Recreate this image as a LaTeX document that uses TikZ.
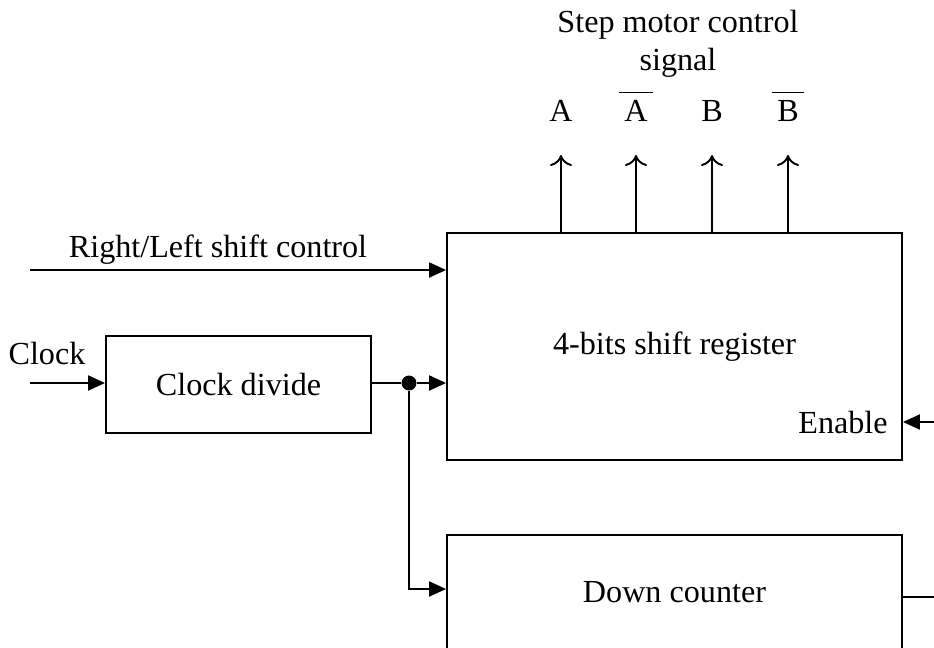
\documentclass[tikz,border=0pt]{standalone}
\usepackage{fontspec}
\setmainfont{Liberation Serif}
\usetikzlibrary{arrows.meta}

\tikzset{
  block/.style={draw, rectangle, inner sep=0pt, line width=1.1pt},
  wire/.style={line width=1.1pt},
  sig/.style={wire, -{Triangle[length=3.4mm,width=3mm]}},
  outsig/.style={wire, -{To[length=2.2mm,width=4.4mm]}},
  lbl/.style={inner sep=0pt}
}
\newcommand{\notsig}[1]{$\overline{\hbox{\,#1\,}\rule{0pt}{0.82em}}$}

\begin{document}
\begin{tikzpicture}[x=0.02cm, y=-0.02cm, font=\fontsize{18.3}{22}\selectfont]
\clip (0,0) rectangle (934,647);

\draw 

(674.5,346.5) node[block, minimum width=9.1cm, minimum height=4.54cm](reg){4-bits shift register}
(238.5,384.5) node[block, minimum width=5.3cm, minimum height=1.94cm](clkdiv){Clock divide}
(674.5,592) node[block, minimum width=9.1cm, minimum height=2.28cm](counter){Down counter};

% free ends at the edges
\coordinate (rlin) at (30,270);
\coordinate (clkin) at (30,383);
\coordinate (enin) at (934,422);
\coordinate (cntout) at (934,597);
\coordinate (cntin) at (447,589);
\node[circle, fill=black, inner sep=0pt, minimum size=8.5pt] (split) at (409,383) {};

\node[lbl] (rltext) at (218,250) {Right/Left shift control};
\node[lbl] (clktext) at (47,353) {Clock};
\node[lbl, anchor=east] (entext) at (888,422) {Enable};

\draw[sig] (rlin) -- (rlin -| reg.west);
\draw[sig] (clkin) -- (clkdiv.west |- clkin);
\draw[wire] (clkdiv.east |- split) -- (split);
\draw[sig] (split) -- (split -| reg.west);
\draw[sig] (split) |- (cntin -| counter.west);
\draw[sig] (enin) -- (enin -| reg.east);
\draw[wire] (cntout -| counter.east) -- (cntout);

% motor outputs
\foreach \x/\name/\txt in {561/a/A, 636/an/\notsig{A}, 712/b/B, 788/bn/\notsig{B}}{
  \coordinate (\name) at (\x,155);
  \draw[outsig] (\name |- reg.north) -- (\name);
  \node[lbl, anchor=base] (\name text) at (\x,121) {\txt};
}

\node[lbl] (title) at (678,25) {Step motor control};
\node[lbl] (title2) at (678,63) {signal};

\end{tikzpicture}
\end{document}
